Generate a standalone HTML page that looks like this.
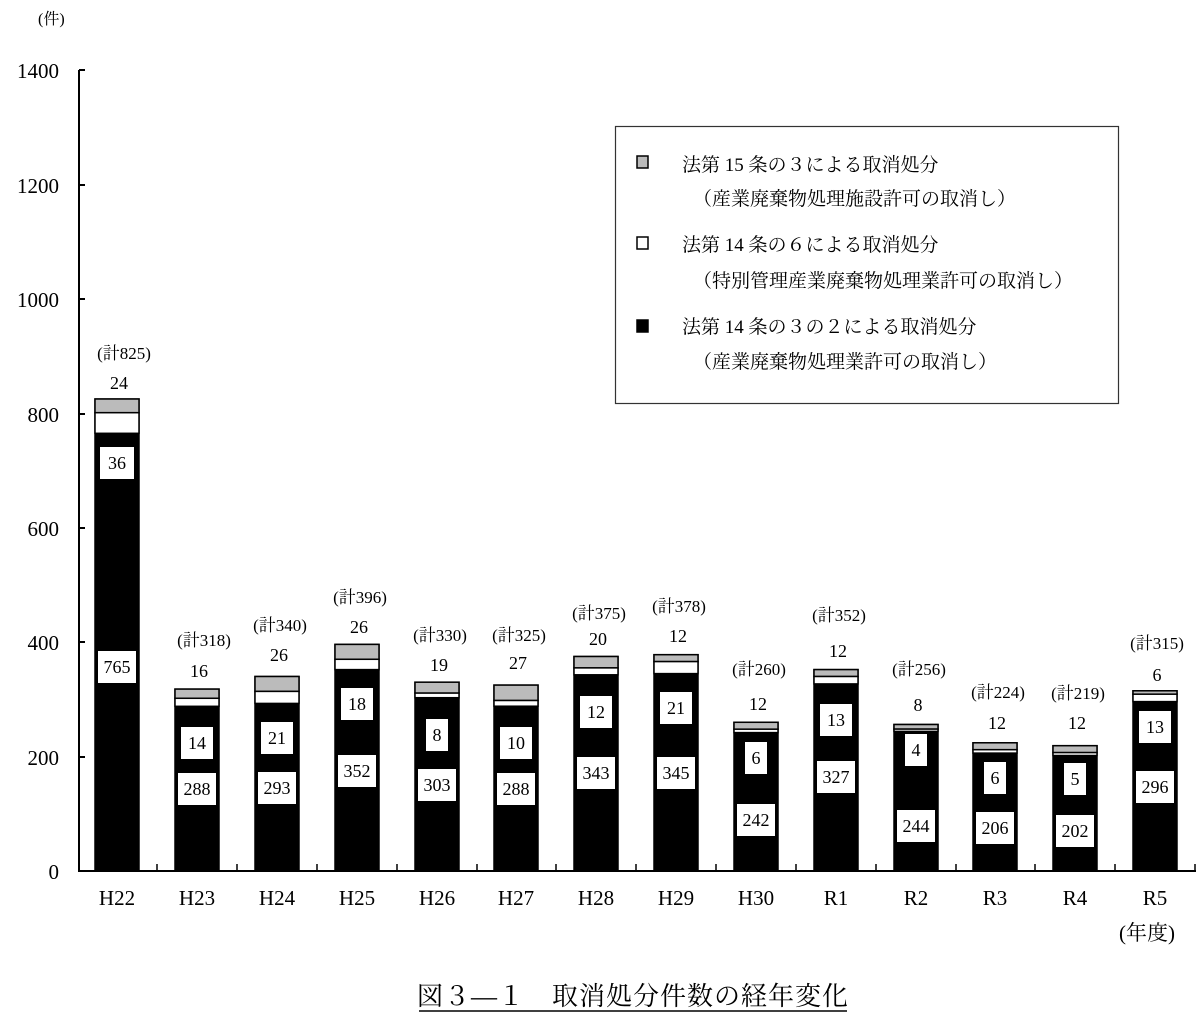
<!DOCTYPE html>
<html><head><meta charset="utf-8"><style>
html,body{margin:0;padding:0;background:#fff}
svg{display:block}
text{font-family:"Liberation Serif","Noto Serif CJK JP","Noto Serif CJK SC",serif;fill:#000}
</style></head><body>
<svg width="1200" height="1022" viewBox="0 0 1200 1022" xmlns="http://www.w3.org/2000/svg">
<text x="38" y="24" font-size="16">(件)</text>
<line x1="79" y1="70" x2="79" y2="871" stroke="#000" stroke-width="2"/>
<g stroke="#000" stroke-width="2">
<line x1="79" y1="70" x2="85" y2="70"/><line x1="79" y1="185" x2="85" y2="185"/>
<line x1="79" y1="299" x2="85" y2="299"/><line x1="79" y1="414" x2="85" y2="414"/>
<line x1="79" y1="528" x2="85" y2="528"/><line x1="79" y1="642" x2="85" y2="642"/>
<line x1="79" y1="757" x2="85" y2="757"/>
</g>
<g font-size="21" text-anchor="end">
<text x="59" y="78">1400</text><text x="59" y="193">1200</text><text x="59" y="307">1000</text>
<text x="59" y="422">800</text><text x="59" y="536">600</text><text x="59" y="650">400</text>
<text x="59" y="765">200</text><text x="59" y="879">0</text>
</g>
<g stroke="#000" stroke-width="1.5">
<rect x="95" y="399" width="44" height="472" fill="#000"/><rect x="95" y="399" width="44" height="13.7" fill="#bbb"/><rect x="95" y="412.7" width="44" height="20.6" fill="#fff"/>
<rect x="175" y="689.1" width="44" height="181.9" fill="#000"/><rect x="175" y="689.1" width="44" height="9.2" fill="#bbb"/><rect x="175" y="698.3" width="44" height="8" fill="#fff"/>
<rect x="255" y="676.5" width="44" height="194.5" fill="#000"/><rect x="255" y="676.5" width="44" height="14.9" fill="#bbb"/><rect x="255" y="691.4" width="44" height="12" fill="#fff"/>
<rect x="335" y="644.4" width="44" height="226.6" fill="#000"/><rect x="335" y="644.4" width="44" height="14.9" fill="#bbb"/><rect x="335" y="659.3" width="44" height="10.3" fill="#fff"/>
<rect x="415" y="682.2" width="44" height="188.8" fill="#000"/><rect x="415" y="682.2" width="44" height="10.9" fill="#bbb"/><rect x="415" y="693.1" width="44" height="4.6" fill="#fff"/>
<rect x="494" y="685.1" width="44" height="185.9" fill="#000"/><rect x="494" y="685.1" width="44" height="15.4" fill="#bbb"/><rect x="494" y="700.5" width="44" height="5.7" fill="#fff"/>
<rect x="574" y="656.5" width="44" height="214.5" fill="#000"/><rect x="574" y="656.5" width="44" height="11.4" fill="#bbb"/><rect x="574" y="667.9" width="44" height="6.9" fill="#fff"/>
<rect x="654" y="654.7" width="44" height="216.3" fill="#000"/><rect x="654" y="654.7" width="44" height="6.9" fill="#bbb"/><rect x="654" y="661.6" width="44" height="12" fill="#fff"/>
<rect x="734" y="722.3" width="44" height="148.7" fill="#000"/><rect x="734" y="722.3" width="44" height="6.9" fill="#bbb"/><rect x="734" y="729.2" width="44" height="3.4" fill="#fff"/>
<rect x="814" y="669.6" width="44" height="201.4" fill="#000"/><rect x="814" y="669.6" width="44" height="6.9" fill="#bbb"/><rect x="814" y="676.5" width="44" height="7.4" fill="#fff"/>
<rect x="894" y="724.5" width="44" height="146.5" fill="#000"/><rect x="894" y="724.5" width="44" height="4.6" fill="#bbb"/><rect x="894" y="729.1" width="44" height="2.3" fill="#fff"/>
<rect x="973" y="742.8" width="44" height="128.2" fill="#000"/><rect x="973" y="742.8" width="44" height="6.9" fill="#bbb"/><rect x="973" y="749.7" width="44" height="3.4" fill="#fff"/>
<rect x="1053" y="745.7" width="44" height="125.3" fill="#000"/><rect x="1053" y="745.7" width="44" height="6.9" fill="#bbb"/><rect x="1053" y="752.6" width="44" height="2.9" fill="#fff"/>
<rect x="1133" y="690.8" width="44" height="180.2" fill="#000"/><rect x="1133" y="690.8" width="44" height="3.4" fill="#bbb"/><rect x="1133" y="694.2" width="44" height="7.4" fill="#fff"/>
</g>
<line x1="78" y1="871" x2="1196" y2="871" stroke="#000" stroke-width="2"/>
<g stroke="#000" stroke-width="1.5">
<line x1="157" y1="871" x2="157" y2="864"/><line x1="237" y1="871" x2="237" y2="864"/><line x1="317" y1="871" x2="317" y2="864"/>
<line x1="397" y1="871" x2="397" y2="864"/><line x1="477" y1="871" x2="477" y2="864"/><line x1="556" y1="871" x2="556" y2="864"/>
<line x1="636" y1="871" x2="636" y2="864"/><line x1="716" y1="871" x2="716" y2="864"/><line x1="796" y1="871" x2="796" y2="864"/>
<line x1="876" y1="871" x2="876" y2="864"/><line x1="956" y1="871" x2="956" y2="864"/><line x1="1035" y1="871" x2="1035" y2="864"/>
<line x1="1115" y1="871" x2="1115" y2="864"/><line x1="1195" y1="871" x2="1195" y2="864"/>
</g>
<g fill="#fff">
<rect x="100" y="447" width="34" height="32"/><rect x="98" y="651" width="38" height="32"/>
<rect x="181" y="727" width="32" height="32"/><rect x="178" y="773" width="38" height="32"/>
<rect x="261" y="722" width="32" height="32"/><rect x="258" y="772" width="38" height="32"/>
<rect x="341" y="688" width="32" height="32"/><rect x="338" y="755" width="38" height="32"/>
<rect x="426" y="719" width="22" height="32"/><rect x="418" y="769" width="38" height="32"/>
<rect x="500" y="727" width="32" height="32"/><rect x="497" y="773" width="38" height="32"/>
<rect x="580" y="696" width="32" height="32"/><rect x="577" y="757" width="38" height="32"/>
<rect x="660" y="692" width="32" height="32"/><rect x="657" y="757" width="38" height="32"/>
<rect x="745" y="742" width="22" height="32"/><rect x="737" y="804" width="38" height="32"/>
<rect x="820" y="704" width="32" height="32"/><rect x="817" y="761" width="38" height="32"/>
<rect x="905" y="734" width="22" height="32"/><rect x="897" y="810" width="38" height="32"/>
<rect x="984" y="762" width="22" height="32"/><rect x="976" y="812" width="38" height="32"/>
<rect x="1064" y="763" width="22" height="32"/><rect x="1056" y="815" width="38" height="32"/>
<rect x="1139" y="711" width="32" height="32"/><rect x="1136" y="771" width="38" height="32"/>
</g>
<g font-size="18" text-anchor="middle">
<text x="117" y="469">36</text><text x="117" y="673">765</text>
<text x="197" y="749">14</text><text x="197" y="795">288</text>
<text x="277" y="744">21</text><text x="277" y="794">293</text>
<text x="357" y="710">18</text><text x="357" y="777">352</text>
<text x="437" y="741">8</text><text x="437" y="791">303</text>
<text x="516" y="749">10</text><text x="516" y="795">288</text>
<text x="596" y="718">12</text><text x="596" y="779">343</text>
<text x="676" y="714">21</text><text x="676" y="779">345</text>
<text x="756" y="764">6</text><text x="756" y="826">242</text>
<text x="836" y="726">13</text><text x="836" y="783">327</text>
<text x="916" y="756">4</text><text x="916" y="832">244</text>
<text x="995" y="784">6</text><text x="995" y="834">206</text>
<text x="1075" y="785">5</text><text x="1075" y="837">202</text>
<text x="1155" y="733">13</text><text x="1155" y="793">296</text>
<text x="119" y="389">24</text><text x="199" y="677">16</text><text x="279" y="661">26</text>
<text x="359" y="633">26</text><text x="439" y="671">19</text><text x="518" y="669">27</text>
<text x="598" y="645">20</text><text x="678" y="642">12</text><text x="758" y="710">12</text>
<text x="838" y="657">12</text><text x="918" y="711">8</text><text x="997" y="729">12</text>
<text x="1077" y="729">12</text><text x="1157" y="681">6</text>
</g>
<g font-size="17" text-anchor="middle">
<text x="124" y="359">(計825)</text><text x="204" y="646">(計318)</text><text x="280" y="631">(計340)</text>
<text x="360" y="603">(計396)</text><text x="440" y="641">(計330)</text><text x="519" y="641">(計325)</text>
<text x="599" y="619">(計375)</text><text x="679" y="612">(計378)</text><text x="759" y="675">(計260)</text>
<text x="839" y="621">(計352)</text><text x="919" y="675">(計256)</text><text x="998" y="698">(計224)</text>
<text x="1078" y="699">(計219)</text><text x="1157" y="649">(計315)</text>
</g>
<g font-size="21" text-anchor="middle">
<text x="117" y="905">H22</text><text x="197" y="905">H23</text><text x="277" y="905">H24</text>
<text x="357" y="905">H25</text><text x="437" y="905">H26</text><text x="516" y="905">H27</text>
<text x="596" y="905">H28</text><text x="676" y="905">H29</text><text x="756" y="905">H30</text>
<text x="836" y="905">R1</text><text x="916" y="905">R2</text><text x="995" y="905">R3</text>
<text x="1075" y="905">R4</text><text x="1155" y="905">R5</text>
<text x="1147" y="940">(年度)</text>
</g>
<rect x="615.5" y="126.5" width="503" height="277" fill="#fff" stroke="#333" stroke-width="1.2"/>
<rect x="637" y="156" width="11" height="12" fill="#bbb" stroke="#000" stroke-width="1.5"/>
<rect x="637" y="237" width="11" height="12" fill="#fff" stroke="#000" stroke-width="1.5"/>
<rect x="637" y="320" width="11" height="12" fill="#000" stroke="#000" stroke-width="1.5"/>
<g font-size="19">
<text x="682" y="171">法第 15 条の３による取消処分</text>
<text x="693" y="205">（産業廃棄物処理施設許可の取消し）</text>
<text x="682" y="251">法第 14 条の６による取消処分</text>
<text x="693" y="287">（特別管理産業廃棄物処理業許可の取消し）</text>
<text x="682" y="333">法第 14 条の３の２による取消処分</text>
<text x="693" y="368">（産業廃棄物処理業許可の取消し）</text>
</g>
<text x="633" y="1005" font-size="26" letter-spacing="1" text-anchor="middle">図３―１　取消処分件数の経年変化</text>
<line x1="419" y1="1011" x2="847" y2="1011" stroke="#000" stroke-width="1.5"/>
</svg>
</body></html>
